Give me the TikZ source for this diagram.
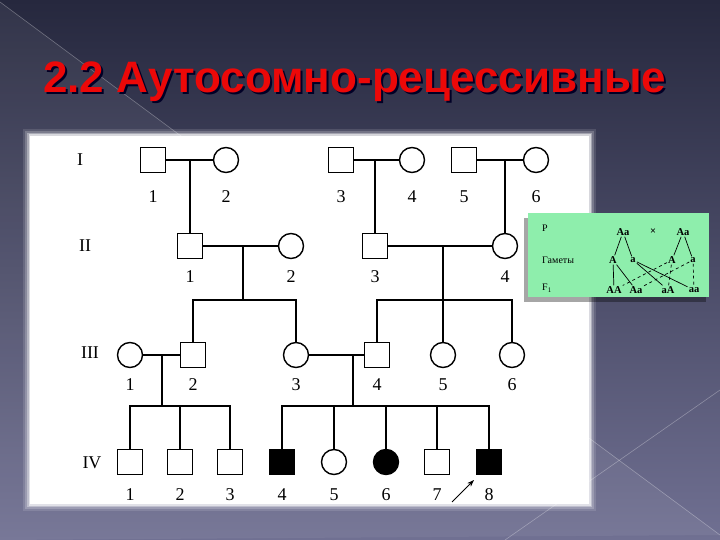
\documentclass[tikz,border=0pt]{standalone}
\usepackage{fontspec}
\setmainfont{Liberation Serif}
\newfontfamily\headfont{Liberation Sans}
\usetikzlibrary{positioning,arrows.meta}

\definecolor{slidetop}{RGB}{38,40,62}
\definecolor{slidebot}{RGB}{112,112,146}
\definecolor{headred}{RGB}{236,8,8}
\definecolor{crossgreen}{RGB}{142,238,172}

\tikzset{
  male/.style={draw,line width=1.4pt,minimum size=25pt,inner sep=0pt},
  female/.style={male,circle},
  sick/.style={fill=black},
  num/.style={inner sep=1pt,font=\fontsize{18}{18}\selectfont},
  kin/.style={line width=1.3pt},
  gene/.style={inner sep=1pt,font=\fontsize{10.5}{10.5}\selectfont\bfseries},
  rowlab/.style={anchor=west,inner sep=0pt,font=\fontsize{10}{10}\selectfont},
  gamete/.style={line width=0.7pt},
}

\begin{document}
\begin{tikzpicture}[x=1pt,y=-1pt]
        % slide background
        \shade[top color=slidetop,bottom color=slidebot] (0,0) rectangle (720,540);
        \useasboundingbox (0,0) rectangle (720,540);
        \fill[white,opacity=0.06] (0,2) -- (720,535) -- (0,540) -- cycle;
        \draw[white,opacity=0.3,line width=0.6pt] (0,2) -- (720,535);
        \draw[white,opacity=0.3,line width=0.6pt] (505,540) -- (720,390);
        % title
        \node[anchor=base west,inner sep=0pt,text=black!85!blue,font=\headfont\bfseries\fontsize{44}{44}\selectfont] (titleshade) at (45,95) {2.2 Аутосомно-рецессивные};
        \node[anchor=base west,inner sep=0pt,text=headred,font=\headfont\bfseries\fontsize{44}{44}\selectfont] (title) at (43,93) {2.2 Аутосомно-рецессивные};
        % white panel with glow
        \foreach \g/\o in {7/0.12,5/0.2,3/0.35,1.5/0.55}
          \fill[white,opacity=\o] (30-\g,136-\g) rectangle (589+\g,504+\g);
        \fill[white] (30,136) rectangle (589,504);

        % generation labels
        \path (80,160) node[num] (genI) {I}
        (85,246) node[num] (genII) {II}
        (90,353) node[num] (genIII) {III}
        (92,463) node[num] (genIV) {IV};

        % generation I
        \path (153,160) node[male] (i1) {} +(0,37) node[num] (i1n) {1};
        \path (226,160) node[female] (i2) {} +(0,37) node[num] (i2n) {2};
        \path (341,160) node[male] (i3) {} +(0,37) node[num] (i3n) {3};
        \path (412,160) node[female] (i4) {} +(0,37) node[num] (i4n) {4};
        \path (464,160) node[male] (i5) {} +(0,37) node[num] (i5n) {5};
        \path (536,160) node[female] (i6) {} +(0,37) node[num] (i6n) {6};
        % generation II
        \path (190,246) node[male] (ii1) {} +(0,31) node[num] (ii1n) {1};
        \path (291,246) node[female] (ii2) {} +(0,31) node[num] (ii2n) {2};
        \path (375,246) node[male] (ii3) {} +(0,31) node[num] (ii3n) {3};
        \path (505,246) node[female] (ii4) {} +(0,31) node[num] (ii4n) {4};
        % generation III
        \path (130,355) node[female] (iii1) {} +(0,30) node[num] (iii1n) {1};
        \path (193,355) node[male] (iii2) {} +(0,30) node[num] (iii2n) {2};
        \path (296,355) node[female] (iii3) {} +(0,30) node[num] (iii3n) {3};
        \path (377,355) node[male] (iii4) {} +(0,30) node[num] (iii4n) {4};
        \path (443,355) node[female] (iii5) {} +(0,30) node[num] (iii5n) {5};
        \path (512,355) node[female] (iii6) {} +(0,30) node[num] (iii6n) {6};
        % generation IV
        \path (130,462) node[male] (iv1) {} +(0,33) node[num] (iv1n) {1};
        \path (180,462) node[male] (iv2) {} +(0,33) node[num] (iv2n) {2};
        \path (230,462) node[male] (iv3) {} +(0,33) node[num] (iv3n) {3};
        \path (282,462) node[male,sick] (iv4) {} +(0,33) node[num] (iv4n) {4};
        \path (334,462) node[female] (iv5) {} +(0,33) node[num] (iv5n) {5};
        \path (386,462) node[female,sick] (iv6) {} +(0,33) node[num] (iv6n) {6};
        \path (437,462) node[male] (iv7) {} +(0,33) node[num] (iv7n) {7};
        \path (489,462) node[male,sick] (iv8) {} +(0,33) node[num] (iv8n) {8};

        % marriages and descent
        \coordinate (m1) at (190,160);
        \coordinate (m2) at (243,246);
        \coordinate (s2) at (243,300);
        \coordinate (m3) at (375,160);
        \coordinate (m4) at (505,160);
        \coordinate (m5) at (443,246);
        \coordinate (s5) at (443,300);
        \coordinate (m6) at (162,355);
        \coordinate (s6) at (162,406);
        \coordinate (m7) at (353,355);
        \coordinate (s7) at (353,406);
        \draw[kin] (i1) -- (i2);
        \draw[kin] (i3) -- (i4);
        \draw[kin] (i5) -- (i6);
        \draw[kin] (m1) -- (ii1.north);
        \draw[kin] (m3) -- (ii3.north);
        \draw[kin] (m4) -- (ii4.north);
        \draw[kin] (ii1) -- (ii2);
        \draw[kin] (ii3) -- (ii4);
        \draw[kin] (m2) -- (s2);
        \draw[kin] (iii2.north) |- (s2) -| (iii3.north);
        \draw[kin] (m5) -- (iii5.north);
        \draw[kin] (iii4.north) |- (s5) -| (iii6.north);
        \draw[kin] (iii1) -- (iii2);
        \draw[kin] (iii3) -- (iii4);
        \draw[kin] (m6) -- (s6);
        \draw[kin] (iv1.north) |- (s6) -| (iv3.north);
        \draw[kin] (iv2.north) -- (iv2.north |- s6);
        \draw[kin] (m7) -- (s7);
        \draw[kin] (iv4.north) |- (s7) -| (iv8.north);
        \foreach \k in {iv5,iv6,iv7}
          \draw[kin] (\k.north) -- (\k.north |- s7);
        % proband
        \coordinate (pointer) at (452,502);
        \coordinate (pointee) at (474,480);
        \draw[line width=1pt,-{Stealth[length=7pt,width=5pt]}] (pointer) -- (pointee);

        % crossing scheme
        \fill[black,opacity=0.35] (524,218) rectangle (706,302);
        \fill[crossgreen] (528,213) rectangle (709,297);
        \path (542,228) node[rowlab] (rowP) {P}
        (542,260) node[rowlab] (rowG) {Гаметы}
        (542,288) node[rowlab] (rowF) {F\textsubscript{1}};
        \node[gene] (pa) at (623,232) {Aa};
        \node[gene] (cross) at (653,232) {×};
        \node[gene] (pb) at (683,232) {Aa};
        \node[gene] (ga1) at (613,260) {A};
        \node[gene] (ga2) at (633,260) {a};
        \node[gene] (gb1) at (672,260) {A};
        \node[gene] (gb2) at (693,260) {a};
        \node[gene] (f1) at (614,290) {AA};
        \node[gene] (f2) at (636,290) {Aa};
        \node[gene] (f3) at (668,290) {aA};
        \node[gene] (f4) at (694,290) {aa};
        \draw[gamete] (pa) -- (ga1);
        \draw[gamete] (pa) -- (ga2);
        \draw[gamete] (pb) -- (gb1);
        \draw[gamete] (pb) -- (gb2);
        \draw[gamete] (ga1) -- (f1);
        \draw[gamete] (ga1) -- (f2);
        \draw[gamete] (ga2) -- (f3);
        \draw[gamete] (ga2) -- (f4);
        \draw[gamete,dashed] (gb1) -- (f1);
        \draw[gamete,dashed] (gb1) -- (f3);
        \draw[gamete,dashed] (gb2) -- (f2);
        \draw[gamete,dashed] (gb2) -- (f4);
    \end{tikzpicture}
\end{document}
